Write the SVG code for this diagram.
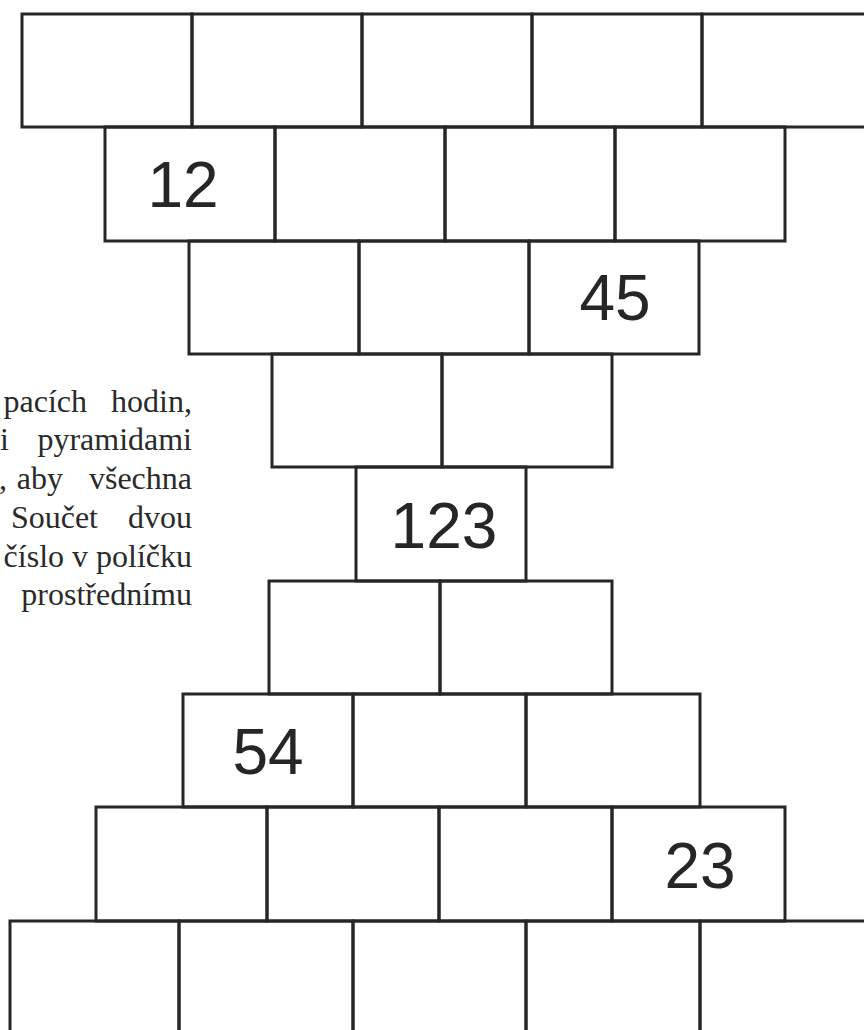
<svg xmlns="http://www.w3.org/2000/svg" width="864" height="1030" viewBox="0 0 864 1030">
<style>
.cell{fill:none;stroke:#262626;stroke-width:3;stroke-linejoin:miter}
.num{font-family:"Liberation Sans",Arial,sans-serif;font-size:64px;fill:#262626;text-anchor:middle}
.txt{font-family:"Liberation Serif","Times New Roman",serif;font-size:32px;fill:#2a2a2a}
.e{text-anchor:end}
</style>
<rect width="864" height="1030" fill="#ffffff"/>
<g id="intro-text">
<text class="txt e" x="87" y="412">pacích</text><text class="txt e" x="192" y="412">hodin,</text>
<text class="txt e" x="9" y="450">i</text><text class="txt e" x="192" y="450">pyramidami</text>
<text class="txt e" x="7" y="489">,</text><text class="txt e" x="63" y="489">aby</text><text class="txt e" x="192" y="489">všechna</text>
<text class="txt e" x="98" y="528">Součet</text><text class="txt e" x="192" y="528">dvou</text>
<text class="txt e" x="192" y="567">číslo v políčku</text>
<text class="txt e" x="192" y="605">prostřednímu</text>
</g>
<g id="row1">
<g id="r1c1"><rect class="cell" x="22" y="14" width="170" height="113"/></g>
<g id="r1c2"><rect class="cell" x="192" y="14" width="170" height="113"/></g>
<g id="r1c3"><rect class="cell" x="362" y="14" width="170" height="113"/></g>
<g id="r1c4"><rect class="cell" x="532" y="14" width="170" height="113"/></g>
<g id="r1c5"><rect class="cell" x="702" y="14" width="170" height="113"/></g>
</g>
<g id="row2">
<g id="r2c1"><rect class="cell" x="105" y="127" width="170" height="114"/><text class="num" x="183" y="207">12</text></g>
<g id="r2c2"><rect class="cell" x="275" y="127" width="170" height="114"/></g>
<g id="r2c3"><rect class="cell" x="445" y="127" width="170" height="114"/></g>
<g id="r2c4"><rect class="cell" x="615" y="127" width="170" height="114"/></g>
</g>
<g id="row3">
<g id="r3c1"><rect class="cell" x="189" y="241" width="170" height="113"/></g>
<g id="r3c2"><rect class="cell" x="359" y="241" width="170" height="113"/></g>
<g id="r3c3"><rect class="cell" x="529" y="241" width="170" height="113"/><text class="num" x="615" y="320">45</text></g>
</g>
<g id="row4">
<g id="r4c1"><rect class="cell" x="272" y="354" width="170" height="113"/></g>
<g id="r4c2"><rect class="cell" x="442" y="354" width="170" height="113"/></g>
</g>
<g id="row5">
<g id="r5c1"><rect class="cell" x="356" y="467" width="170" height="114"/><text class="num" x="444" y="548">123</text></g>
</g>
<g id="row6">
<g id="r6c1"><rect class="cell" x="269" y="581" width="171" height="113"/></g>
<g id="r6c2"><rect class="cell" x="440" y="581" width="172" height="113"/></g>
</g>
<g id="row7">
<g id="r7c1"><rect class="cell" x="183" y="694" width="170" height="113"/><text class="num" x="268" y="774">54</text></g>
<g id="r7c2"><rect class="cell" x="353" y="694" width="173" height="113"/></g>
<g id="r7c3"><rect class="cell" x="526" y="694" width="174" height="113"/></g>
</g>
<g id="row8">
<g id="r8c1"><rect class="cell" x="96" y="807" width="171" height="114"/></g>
<g id="r8c2"><rect class="cell" x="267" y="807" width="172" height="114"/></g>
<g id="r8c3"><rect class="cell" x="439" y="807" width="173" height="114"/></g>
<g id="r8c4"><rect class="cell" x="612" y="807" width="173" height="114"/><text class="num" x="700" y="888">23</text></g>
</g>
<g id="row9">
<g id="r9c1"><rect class="cell" x="10" y="921" width="169" height="130"/></g>
<g id="r9c2"><rect class="cell" x="179" y="921" width="174" height="130"/></g>
<g id="r9c3"><rect class="cell" x="353" y="921" width="173" height="130"/></g>
<g id="r9c4"><rect class="cell" x="526" y="921" width="174" height="130"/></g>
<g id="r9c5"><rect class="cell" x="700" y="921" width="174" height="130"/></g>
</g>
</svg>
